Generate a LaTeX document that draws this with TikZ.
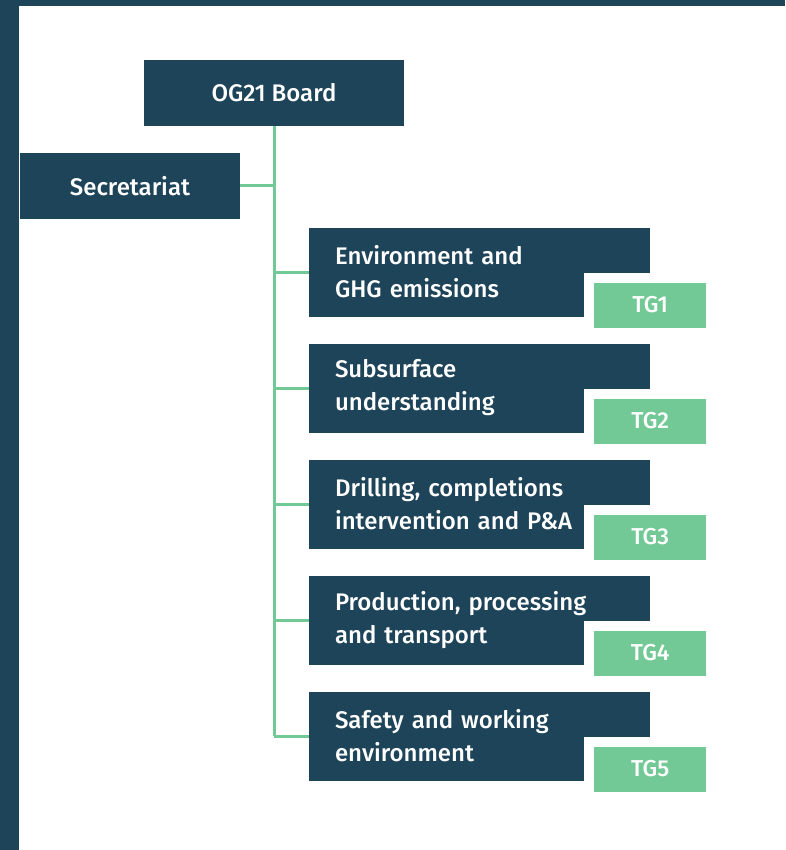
\documentclass[tikz,border=0pt]{standalone}
\usepackage{fontspec}
\setmainfont{Fira Sans}[UprightFont=* Medium]
\usetikzlibrary{positioning}

\definecolor{ogdark}{HTML}{1E4459}
\definecolor{oggreen}{HTML}{72C995}

\tikzset{
  darkbox/.style={fill=ogdark, text=white, inner sep=0pt,
    font=\fontsize{24}{33}\selectfont},
  groupbox/.style={darkbox, minimum width=341pt, minimum height=89pt,
    text width=289pt, inner xsep=26pt, align=left},
  tgbox/.style={fill=oggreen, draw=white, line width=10pt, text=white,
    minimum width=122pt, minimum height=55pt, inner sep=0pt,
    font=\fontsize{23}{26}\selectfont},
  link/.style={draw=oggreen, line width=3pt}
}

\begin{document}
\begin{tikzpicture}[x=1pt, y=-1pt]

% Frame: dark border on the left and top
\fill[ogdark] (0,0) rectangle (785,850);
\fill[white] (19,6) rectangle (785,850);
\useasboundingbox (0,0) rectangle (785,850);

% Board and secretariat
\node[darkbox, minimum width=260pt, minimum height=66pt] (board) at (274,93) {OG21 Board};
\node[darkbox, minimum width=220pt, minimum height=66pt] (secretariat) at (130,186) {Secretariat};

% Technology groups
\node[groupbox] (env) at (479.5,272) {Environment and\\GHG emissions};
\node[groupbox] (subsurface) at (479.5,388) {Subsurface\\understanding};
\node[groupbox] (drilling) at (479.5,504) {Drilling, completions\\intervention and P\&A};
\node[groupbox] (production) at (479.5,620) {Production, processing\\and transport};
\node[groupbox] (safety) at (479.5,736) {Safety and working\\environment};

% Group tags, overlapping the lower right corner
\node[tgbox] (tg1) at ([yshift=-33pt]env.east) {TG1};
\node[tgbox] (tg2) at ([yshift=-33pt]subsurface.east) {TG2};
\node[tgbox] (tg3) at ([yshift=-33pt]drilling.east) {TG3};
\node[tgbox] (tg4) at ([yshift=-33pt]production.east) {TG4};
\node[tgbox] (tg5) at ([yshift=-33pt]safety.east) {TG5};

% Connectors
\draw[link] (board.south) -- (board.south |- safety.west);   % trunk
\draw[link] (secretariat.east) -- (board.south |- secretariat.east);
\draw[link] (board.south |- env.west) -- (env.west);
\draw[link] (board.south |- subsurface.west) -- (subsurface.west);
\draw[link] (board.south |- drilling.west) -- (drilling.west);
\draw[link] (board.south |- production.west) -- (production.west);
\draw[link] (board.south |- safety.west) -- (safety.west);

\end{tikzpicture}
\end{document}
